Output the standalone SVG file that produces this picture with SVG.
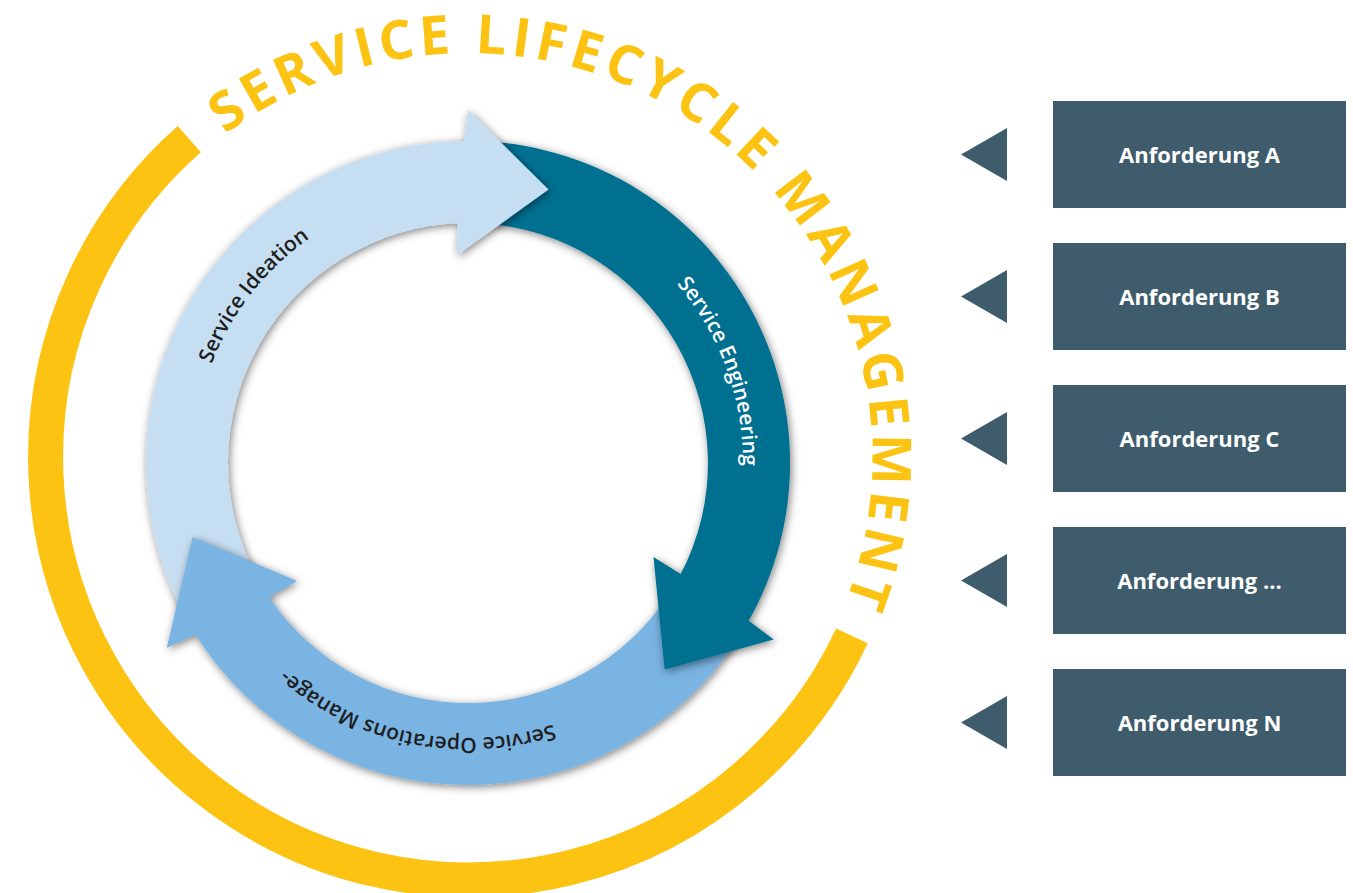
<svg xmlns="http://www.w3.org/2000/svg" width="1353" height="893" viewBox="0 0 1353 893">
  <defs>
    <style>
      .title { font-family: "Open Sans", "Liberation Sans", sans-serif; font-weight: 700; font-size: 54px; fill: #FDC312; letter-spacing: 5px; }
      .band-label { font-family: "Open Sans", "Liberation Sans", sans-serif; font-weight: 600; font-size: 21px; }
      .dark-text { fill: #1E1E1E; }
      .light-text { fill: #FFFFFF; }
      .req-box { fill: #3E5C6C; }
      .req-text { font-family: "Open Sans", "Liberation Sans", sans-serif; font-weight: 700; font-size: 22px; fill: #FFFFFF; text-anchor: middle; }
      .pointer { fill: #3E5C6C; }
      .ideation { fill: #C6DEF2; }
      .engineering { fill: #036F91; }
      .operations { fill: #79B4E2; }
    </style>
    <filter id="shadow" x="-20%" y="-20%" width="140%" height="140%">
      <feDropShadow dx="1.5" dy="2" stdDeviation="4.5" flood-color="#000000" flood-opacity="0.5"/>
    </filter>
    <filter id="shadowOnly" x="-30%" y="-30%" width="160%" height="160%">
      <feGaussianBlur in="SourceAlpha" stdDeviation="4.5"/>
      <feOffset dx="1.5" dy="2"/>
      <feComponentTransfer>
        <feFuncA type="linear" slope="0.5"/>
      </feComponentTransfer>
    </filter>
    <!-- arrow outlines (ring centre 468,463; band radii 240..322) -->
    <path id="ideationShape" d="M 183.7 614.2 A 322 322 0 0 1 464.3 141.0 L 468 110 L 548.5 189.6 L 456.8 255.3 L 457.9 223.2 A 240 240 0 0 0 256.1 575.7 Z"/>
    <path id="engineeringShape" d="M 484.9 141.4 A 322 322 0 0 1 748.7 620.8 L 773.7 639.5 L 664.6 669.4 L 653.5 557.1 L 680.7 574.1 A 240 240 0 0 0 480.6 223.3 Z"/>
    <path id="operationsShape" d="M 738.1 638.4 A 322 322 0 0 1 195.4 634.4 L 167.0 647.4 L 192.8 537.2 L 296.8 581.1 L 268.9 597.0 A 240 240 0 0 0 669.3 593.7 Z"/>
    <path id="operationsHead" d="M 195.4 634.4 L 167.0 647.4 L 192.8 537.2 L 296.8 581.1 L 268.9 597.0 Z"/>
    <clipPath id="ideationClip">
      <use href="#ideationShape"/>
    </clipPath>
    <!-- text baselines -->
    <path id="titleArc" d="M 225.4 134.4 A 404 404 0 0 1 818.4 659"/>
    <path id="ideationArc" d="M 209.6 557.1 A 275 275 0 0 1 496.7 189.5"/>
    <path id="engineeringArc" d="M 525.2 194.0 A 275 275 0 0 1 684.7 632.3"/>
    <path id="operationsArc" d="M 667.2 652.6 A 275 275 0 0 1 210.2 558.9"/>
  </defs>

  <rect width="1353" height="893" fill="#FFFFFF"/>

  <!-- outer management arc with its title -->
  <g id="lifecycle-management">
    <path d="M 851.9 635.8 A 423 423 0 1 1 189.3 139.2" fill="none" stroke="#FDC312" stroke-width="35"/>
    <text class="title"><textPath href="#titleArc">SERVICE LIFECYCLE MANAGEMENT</textPath></text>
  </g>

  <!-- lifecycle phases; drawn so each head lies over the next tail -->
  <g id="operations">
    <use href="#operationsShape" class="operations" filter="url(#shadow)"/>
  </g>
  <g id="engineering">
    <use href="#engineeringShape" class="engineering" filter="url(#shadow)"/>
  </g>
  <g id="ideation">
    <use href="#ideationShape" class="ideation" filter="url(#shadow)"/>
  </g>
  <!-- operations head closes the cycle over the ideation tail -->
  <g id="operations-head">
    <use href="#operationsHead" fill="#000000" filter="url(#shadowOnly)" clip-path="url(#ideationClip)"/>
    <use href="#operationsHead" class="operations"/>
  </g>

  <g id="phase-labels">
    <text class="band-label dark-text"><textPath href="#ideationArc" startOffset="50%" text-anchor="middle">Service Ideation</textPath></text>
    <text class="band-label light-text"><textPath href="#engineeringArc" startOffset="50%" text-anchor="middle">Service Engineering</textPath></text>
    <text class="band-label dark-text"><textPath href="#operationsArc" startOffset="50%" text-anchor="middle">Service Operations Manage-</textPath></text>
  </g>

  <!-- pointers from the requirements towards the lifecycle -->
  <g id="connectors">
    <polygon class="pointer" points="961,154.5 1007,128 1007,181"/>
    <polygon class="pointer" points="961,296.5 1007,270 1007,323"/>
    <polygon class="pointer" points="961,438.5 1007,412 1007,465"/>
    <polygon class="pointer" points="961,580.5 1007,554 1007,607"/>
    <polygon class="pointer" points="961,722.5 1007,696 1007,749"/>
  </g>

  <g id="req-a">
    <rect class="req-box" x="1053" y="101" width="293" height="107"/>
    <text class="req-text" x="1199.5" y="162.5">Anforderung A</text>
  </g>
  <g id="req-b">
    <rect class="req-box" x="1053" y="243" width="293" height="107"/>
    <text class="req-text" x="1199.5" y="304.5">Anforderung B</text>
  </g>
  <g id="req-c">
    <rect class="req-box" x="1053" y="385" width="293" height="107"/>
    <text class="req-text" x="1199.5" y="446.5">Anforderung C</text>
  </g>
  <g id="req-more">
    <rect class="req-box" x="1053" y="527" width="293" height="107"/>
    <text class="req-text" x="1199.5" y="588.5">Anforderung ...</text>
  </g>
  <g id="req-n">
    <rect class="req-box" x="1053" y="669" width="293" height="107"/>
    <text class="req-text" x="1199.5" y="730.5">Anforderung N</text>
  </g>
</svg>
